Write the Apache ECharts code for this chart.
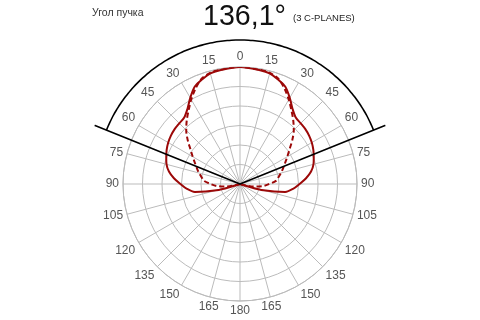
<!DOCTYPE html>
<html><head><meta charset="utf-8">
<script src="https://cdn.jsdelivr.net/npm/echarts@6/dist/echarts.min.js"></script>
<style>html,body{margin:0;padding:0;background:#fff}#c{width:480px;height:320px}</style>
</head><body><div id="c"></div>
<script>
// Half-plane angles (deg from nadir), symmetric curves
const angles      = [0, 10, 15, 20, 25, 30, 35, 40, 45, 50, 55, 60, 65, 70, 75, 80, 85, 90, 95, 100, 105, 107, 110];
const solidValues = [120, 118.5, 117.5, 114, 110, 102, 94, 89, 88, 87.5, 86.5, 85, 83, 80.5, 78, 74, 68, 61, 55, 47, 25, 7, 0];
const dashAngles  = [0, 10, 15, 20, 25, 30, 35, 40, 45, 50, 55, 60, 65, 70, 75, 80, 85, 90, 95, 100, 104, 106];
const dashValues  = [120, 119, 118, 115, 108, 100, 92, 85, 78, 70, 62, 56, 51, 47, 43.5, 40, 37, 30, 24, 15, 6, 0];
const beamAngle = 136.1;
const beamLineLen = 161;
const beamArcR = 147.7;
const radiusMax = 120;
const radiusStep = 20;
const angleStep = 15;

function mirror(a, v) {
  const out = [];
  for (let i = a.length - 1; i > 0; i--) out.push([v[i], -a[i]]);
  for (let i = 0; i < a.length; i++) out.push([v[i], a[i]]);
  return out;
}
const half = beamAngle / 2;
const arc = [];
for (let t = -half; t <= half + 1e-9; t += half / 40) arc.push([beamArcR, t]);

const gridR = 117;
const chart = echarts.init(document.getElementById('c'));
const red = '#9c0808';
chart.setOption({
  animation: false,
  title: [
    {text: 'Угол пучка', left: 92, top: 8, padding: 0, textStyle: {fontFamily: 'Liberation Sans', fontSize: 10.5, fontWeight: 'normal', color: '#333'}},
    {text: '136,1°', left: 203, top: 3, padding: 0, textStyle: {fontFamily: 'Liberation Sans', fontSize: 28.6, fontWeight: 'normal', color: '#111'}},
    {text: '(3 C-PLANES)', left: 293, top: 13, padding: 0, textStyle: {fontFamily: 'Liberation Sans', fontSize: 9.5, fontWeight: 'normal', color: '#222'}}
  ],
  polar: [
    {center: [240, 184], radius: gridR},
    {center: [240, 184], radius: gridR * beamLineLen / radiusMax}
  ],
  angleAxis: [{
    polarIndex: 0,
    type: 'value', min: 0, max: 360, interval: angleStep, startAngle: 90, clockwise: true,
    axisLine: {lineStyle: {color: '#bbb', width: 1}},
    axisTick: {show: false},
    splitLine: {show: true, lineStyle: {color: '#bbb', width: 1}},
    axisLabel: {margin: 4, fontFamily: 'Liberation Sans', fontSize: 12, color: '#555',
      formatter: v => (v >= 360 ? '' : String(v > 180 ? 360 - v : v))}
  }, {
    polarIndex: 1,
    type: 'value', min: 0, max: 360, startAngle: 90, clockwise: true, show: false
  }],
  radiusAxis: [{
    polarIndex: 0,
    type: 'value', min: 0, max: radiusMax, interval: radiusStep,
    axisLine: {show: false}, axisTick: {show: false}, axisLabel: {show: false},
    splitLine: {show: true, lineStyle: {color: '#bbb', width: 1}}
  }, {
    polarIndex: 1,
    type: 'value', min: 0, max: beamLineLen, show: false
  }],
  series: [
    {type: 'line', coordinateSystem: 'polar', polarIndex: 0, data: mirror(dashAngles, dashValues), showSymbol: false, symbol: 'none', smooth: 0.3, clip: false,
     lineStyle: {color: red, width: 2, type: [5, 3]}, z: 3},
    {type: 'line', coordinateSystem: 'polar', polarIndex: 0, data: mirror(angles, solidValues), showSymbol: false, symbol: 'none', smooth: 0.3, clip: false,
     lineStyle: {color: red, width: 2}, z: 4},
    {type: 'line', coordinateSystem: 'polar', polarIndex: 1, data: [[beamLineLen, -half], [0, 0], [beamLineLen, half]], showSymbol: false, symbol: 'none', clip: false,
     lineStyle: {color: '#000', width: 1.6}, z: 5},
    {type: 'line', coordinateSystem: 'polar', polarIndex: 1, data: arc, showSymbol: false, symbol: 'none', smooth: true, clip: false,
     lineStyle: {color: '#000', width: 1.6}, z: 5}
  ]
});
</script></body></html>
